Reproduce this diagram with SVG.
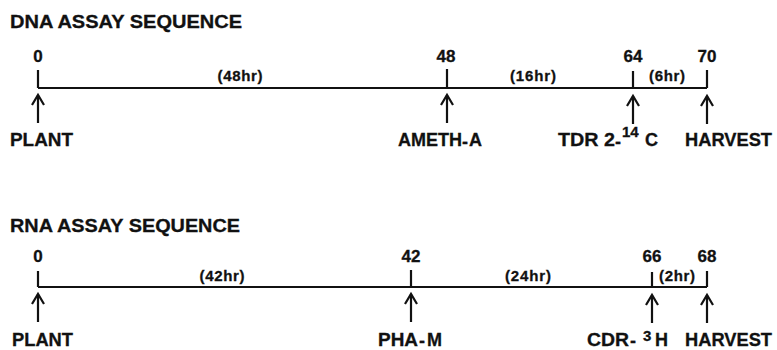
<svg xmlns="http://www.w3.org/2000/svg" width="777" height="350" viewBox="0 0 777 350">
  <style>
    text { font-family: "Liberation Sans", Arial, sans-serif; font-weight: bold; fill: #111; stroke: #111; stroke-width: 0.3; }
    .title { font-size: 18px; }
    .num { font-size: 17px; text-anchor: middle; }
    .dur { font-size: 15px; text-anchor: middle; }
    .lbl { font-size: 18px; }
    .sup { font-size: 15px; }
    .axis, .tick, .arrow { stroke: #111; stroke-width: 2.2; fill: none; }
  </style>
  <defs>
    <!-- open up-pointing arrow, tip at the origin -->
    <g id="up-arrow" class="arrow">
      <line x1="0" y1="0" x2="0" y2="28" />
      <polyline points="-6,10 0,0 6,10" />
    </g>
  </defs>

  <!-- DNA assay timeline -->
  <g id="dna">
    <text class="title" x="10" y="28" textLength="232" lengthAdjust="spacingAndGlyphs">DNA ASSAY SEQUENCE</text>
    <g id="dna-t0"><text class="num" x="38" y="62">0</text></g>
    <g id="dna-t48"><text class="num" x="446" y="62">48</text></g>
    <g id="dna-t64"><text class="num" x="633" y="62">64</text></g>
    <g id="dna-t70"><text class="num" x="707" y="62">70</text></g>
    <text class="dur" x="240" y="81" textLength="45">(48hr)</text>
    <text class="dur" x="533" y="81" textLength="46">(16hr)</text>
    <text class="dur" x="667" y="81" textLength="36">(6hr)</text>

    <g id="dna-plant"><text class="lbl" x="10" y="146" textLength="63" lengthAdjust="spacingAndGlyphs">PLANT</text></g>
    <g id="dna-ameth">
      <text class="lbl" y="146"><tspan x="398" textLength="64" lengthAdjust="spacingAndGlyphs">AMETH</tspan><tspan x="462" dy="2">-</tspan><tspan x="469" dy="-2">A</tspan></text>
    </g>
    <g id="dna-tdr">
      <text class="lbl" y="146"><tspan x="558" textLength="57" lengthAdjust="spacingAndGlyphs">TDR 2</tspan><tspan x="615" dy="2">-</tspan></text>
      <text class="sup" x="622" y="137">14</text>
      <text class="lbl" x="645" y="146">C</text>
    </g>
    <g id="dna-harvest"><text class="lbl" x="685" y="146" textLength="87" lengthAdjust="spacingAndGlyphs">HARVEST</text></g>
  </g>

  <!-- RNA assay timeline -->
  <g id="rna">
    <text class="title" x="10" y="232" textLength="230" lengthAdjust="spacingAndGlyphs">RNA ASSAY SEQUENCE</text>
    <g id="rna-t0"><text class="num" x="38" y="262">0</text></g>
    <g id="rna-t42"><text class="num" x="411" y="262">42</text></g>
    <g id="rna-t66"><text class="num" x="652" y="262">66</text></g>
    <g id="rna-t68"><text class="num" x="707" y="262">68</text></g>
    <text class="dur" x="222" y="281" textLength="45">(42hr)</text>
    <text class="dur" x="528" y="281" textLength="46">(24hr)</text>
    <text class="dur" x="677" y="281" textLength="36">(2hr)</text>

    <g id="rna-plant"><text class="lbl" x="12" y="346" textLength="61" lengthAdjust="spacingAndGlyphs">PLANT</text></g>
    <g id="rna-pha">
      <text class="lbl" y="346"><tspan x="378" textLength="40" lengthAdjust="spacingAndGlyphs">PHA</tspan><tspan x="419" dy="1">-</tspan><tspan x="427" dy="-1">M</tspan></text>
    </g>
    <g id="rna-cdr">
      <text class="lbl" y="346"><tspan x="587" textLength="42" lengthAdjust="spacingAndGlyphs">CDR</tspan><tspan x="630" dy="1">-</tspan></text>
      <text class="sup" x="643" y="341">3</text>
      <text class="lbl" x="655" y="346">H</text>
    </g>
    <g id="rna-harvest"><text class="lbl" x="685" y="346" textLength="87" lengthAdjust="spacingAndGlyphs">HARVEST</text></g>
  </g>

  <!-- axes, ticks and event arrows -->
  <g id="connectors">
    <line class="axis" x1="38" y1="88" x2="707" y2="88" />
    <line class="tick" x1="38" y1="70" x2="38" y2="88" />
    <line class="tick" x1="447" y1="69" x2="447" y2="88" />
    <line class="tick" x1="633" y1="71" x2="633" y2="88" />
    <line class="tick" x1="707" y1="70" x2="707" y2="88" />
    <use href="#up-arrow" x="38" y="95" />
    <use href="#up-arrow" x="447" y="95" />
    <use href="#up-arrow" x="633" y="96" />
    <use href="#up-arrow" x="707" y="96" />

    <line class="axis" x1="38" y1="287" x2="707" y2="287" />
    <line class="tick" x1="38" y1="271" x2="38" y2="287" />
    <line class="tick" x1="411" y1="270" x2="411" y2="287" />
    <line class="tick" x1="652" y1="272" x2="652" y2="287" />
    <line class="tick" x1="707" y1="271" x2="707" y2="287" />
    <use href="#up-arrow" x="38" y="294" />
    <use href="#up-arrow" x="411" y="294" />
    <use href="#up-arrow" x="652" y="295" />
    <use href="#up-arrow" x="707" y="295" />
  </g>
</svg>
